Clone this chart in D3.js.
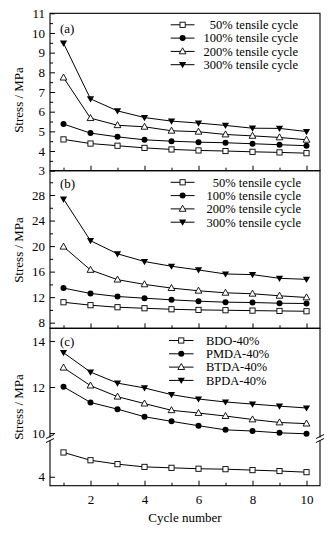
<!DOCTYPE html>
<html lang="en">
<head>
  <meta charset="UTF-8">
  <title>Stress vs cycle number</title>
  <script src="https://d3js.org/d3.v7.min.js"></script>
  <style>
    body, html {
      margin: 0;
      padding: 0;
      background: #fff;
    }
    svg {
      display: block;
    }
    svg text {
      font-family: "Liberation Serif", "DejaVu Serif", "Times New Roman", serif;
      fill: #000;
    }
    .tick text {
      font-size: 13px;
    }
    .legend text {
      font-size: 12.5px;
    }
    .title {
      font-size: 13px;
    }
  </style>
</head>
<body>
  <svg width="332" height="533"></svg>

  <script>
    const cycles = [1, 2, 3, 4, 5, 6, 7, 8, 9, 10];

    // panel (a)
    const aNames = ["50% tensile cycle", "100% tensile cycle", "200% tensile cycle", "300% tensile cycle"];
    const a50 = [4.59, 4.38, 4.27, 4.16, 4.08, 4.03, 4.00, 3.96, 3.93, 3.89];
    const a100 = [5.37, 4.91, 4.72, 4.57, 4.50, 4.45, 4.42, 4.37, 4.32, 4.27];
    const a200 = [7.73, 5.67, 5.31, 5.23, 5.03, 4.98, 4.84, 4.77, 4.69, 4.57];
    const a300 = [9.48, 6.65, 6.04, 5.70, 5.52, 5.42, 5.30, 5.16, 5.15, 4.99];

    // panel (b)
    const b50 = [11.2, 10.74, 10.42, 10.26, 10.1, 10.0, 9.95, 9.89, 9.84, 9.79];
    const b100 = [13.42, 12.58, 12.1, 11.84, 11.58, 11.37, 11.21, 11.16, 11.05, 11.0];
    const b200 = [19.9, 16.26, 14.74, 14.0, 13.42, 13.0, 12.68, 12.53, 12.21, 11.95];
    const b300 = [27.37, 20.84, 18.79, 17.58, 16.84, 16.26, 15.63, 15.53, 14.95, 14.79];

    // panel (c)
    const cNames = ["BDO-40%", "PMDA-40%", "BTDA-40%", "BPDA-40%"];
    const cBDO = [5.06, 4.72, 4.55, 4.43, 4.39, 4.35, 4.33, 4.29, 4.25, 4.20];
    const cPMDA = [12.01, 11.33, 11.04, 10.71, 10.51, 10.32, 10.14, 10.09, 10.01, 9.97];
    const cBTDA = [12.84, 12.06, 11.58, 11.28, 10.99, 10.87, 10.74, 10.59, 10.46, 10.41];
    const cBPDA = [13.49, 12.65, 12.17, 11.96, 11.67, 11.48, 11.35, 11.26, 11.17, 11.09];

    const markers = ["square", "circle", "triangleUp", "triangleDown"];

    const svg = d3.select("svg");
    const left = 50, right = 320;

    const x = d3.scaleLinear().domain([0.5, 10.5]).range([left, right]);

    function drawMarker(g, type, cx, cy) {
      if (type === "square") {
        g.append("rect").attr("x", cx - 2.6).attr("y", cy - 2.6)
          .attr("width", 5.2).attr("height", 5.2)
          .attr("fill", "#fff").attr("stroke", "#000").attr("stroke-width", 0.9);
      } else if (type === "circle") {
        g.append("circle").attr("cx", cx).attr("cy", cy).attr("r", 3)
          .attr("fill", "#000");
      } else if (type === "triangleUp") {
        g.append("path")
          .attr("d", `M${cx},${cy - 3.6}L${cx + 3.4},${cy + 2.4}L${cx - 3.4},${cy + 2.4}Z`)
          .attr("fill", "#fff").attr("stroke", "#000").attr("stroke-width", 0.9);
      } else {
        g.append("path")
          .attr("d", `M${cx},${cy + 3.6}L${cx + 3.6},${cy - 2.6}L${cx - 3.6},${cy - 2.6}Z`)
          .attr("fill", "#000");
      }
    }

    function drawSeries(values, y, type) {
      const g = svg.append("g");
      const line = d3.line().x((d, i) => x(cycles[i])).y(d => y(d));
      g.append("path").attr("d", line(values))
        .attr("fill", "none").attr("stroke", "#000").attr("stroke-width", 1);
      values.forEach((v, i) => drawMarker(g, type, x(cycles[i]), y(v)));
    }

    function drawFrame(top, bottom) {
      svg.append("rect").attr("x", left).attr("y", top)
        .attr("width", right - left).attr("height", bottom - top)
        .attr("fill", "none").attr("stroke", "#000").attr("stroke-width", 1.1);
    }

    function xTicks(bottom, labels) {
      const major = d3.axisBottom(x).tickValues([2, 4, 6, 8, 10]).tickSize(-5).tickPadding(9)
        .tickFormat(labels ? d3.format("d") : "");
      const minor = d3.axisBottom(x).tickValues([1, 3, 5, 7, 9]).tickSize(-3).tickFormat("");
      [major, minor].forEach(ax => {
        const g = svg.append("g").attr("transform", `translate(0,${bottom})`).call(ax);
        g.select(".domain").remove();
      });
    }

    function yTicks(y, majorVals, minorVals) {
      const g = svg.append("g").attr("transform", `translate(${left},0)`)
        .call(d3.axisLeft(y).tickValues(majorVals).tickSize(-5).tickPadding(5)
          .tickFormat(d3.format("d")));
      g.select(".domain").remove();
      if (minorVals.length) {
        const m = svg.append("g").attr("transform", `translate(${left},0)`)
          .call(d3.axisLeft(y).tickValues(minorVals).tickSize(-3).tickFormat(""));
        m.select(".domain").remove();
      }
    }

    function legend(names, x0, x1, textX, anchor, ys) {
      names.forEach((n, i) => {
        const g = svg.append("g").attr("class", "legend");
        g.append("line").attr("x1", x0).attr("x2", x1).attr("y1", ys[i]).attr("y2", ys[i])
          .attr("stroke", "#000").attr("stroke-width", 1);
        drawMarker(g, markers[i], (x0 + x1) / 2, ys[i]);
        g.append("text").attr("x", textX).attr("y", ys[i]).attr("dy", "0.35em")
          .attr("text-anchor", anchor).text(n);
      });
    }

    function yTitle(cy) {
      svg.append("text").attr("class", "title")
        .attr("transform", `translate(18,${cy}) rotate(-90)`)
        .attr("text-anchor", "middle").attr("dy", "0.35em").text("Stress / MPa");
    }

    function panelLabel(t, cy) {
      svg.append("text").attr("class", "title").attr("x", 60).attr("y", cy)
        .attr("dy", "0.35em").text(t);
    }

    // ---- panel (a)
    const yA = d3.scaleLinear().domain([3, 11]).range([170.7, 13.3]);
    drawFrame(13.3, 170.7);
    yTicks(yA, d3.range(3, 12), d3.range(3.5, 11, 1));
    xTicks(170.7, false);
    [a50, a100, a200, a300].forEach((s, i) => drawSeries(s, yA, markers[i]));
    legend(aNames, 170.7, 194.5, 298, "end", [24.8, 38.1, 51.4, 64.7]);
    panelLabel("(a)", 28);
    yTitle(100);

    // ---- panel (b)
    const yB = d3.scaleLinear().domain([7.12, 31.81]).range([328.3, 170.7]);
    drawFrame(170.7, 328.3);
    yTicks(yB, [8, 12, 16, 20, 24, 28], [10, 14, 18, 22, 26, 30]);
    xTicks(328.3, false);
    [b50, b100, b200, b300].forEach((s, i) => drawSeries(s, yB, markers[i]));
    legend(aNames, 170.7, 194.5, 301, "end", [182.3, 195.6, 208.9, 222.2]);
    panelLabel("(b)", 183);
    yTitle(250);

    // ---- panel (c), broken axis
    const yCu = d3.scaleLinear().domain([9.83, 14.55]).range([437, 328.3]);
    const yCl = d3.scaleLinear().domain([3.61, 5.56]).range([485.7, 441]);
    drawFrame(328.3, 485.7);
    yTicks(yCu, [10, 12, 14], []);
    yTicks(yCl, [4], []);
    xTicks(485.7, true);
    drawSeries(cBDO, yCl, markers[0]);
    [cPMDA, cBTDA, cBPDA].forEach((s, i) => drawSeries(s, yCu, markers[i + 1]));
    legend(cNames, 169, 193.5, 206, "start", [340.5, 353.8, 367.1, 380.4]);
    panelLabel("(c)", 341);
    yTitle(407);

    // break marks on both side axes
    [left, right].forEach(bx => {
      svg.append("rect").attr("x", bx - 2).attr("y", 437.5).attr("width", 4).attr("height", 3)
        .attr("fill", "#fff");
      [436.5, 440.5].forEach(by => {
        svg.append("line").attr("x1", bx - 4).attr("x2", bx + 4)
          .attr("y1", by + 2).attr("y2", by - 2)
          .attr("stroke", "#000").attr("stroke-width", 1);
      });
    });

    svg.append("text").attr("class", "title")
      .attr("x", (left + right) / 2).attr("y", 517).attr("dy", "0.35em")
      .attr("text-anchor", "middle").text("Cycle number");
  </script>
</body>
</html>
